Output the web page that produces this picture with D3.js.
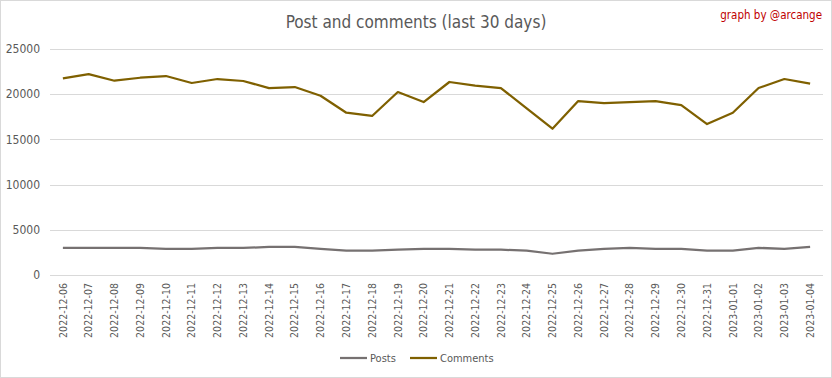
<!DOCTYPE html>
<html>
<head>
<meta charset="utf-8">
<script src="https://cdn.jsdelivr.net/npm/d3@7"></script>
<style>
  body { margin: 0; background: #fff; }
  svg { display: block; font-family: "Liberation Sans Narrow", "DejaVu Sans Condensed", "Liberation Sans", sans-serif; }
</style>
</head>
<body>
<div id="cont"></div>
<script>
// Data
var days = ["2022-12-06","2022-12-07","2022-12-08","2022-12-09","2022-12-10","2022-12-11",
  "2022-12-12","2022-12-13","2022-12-14","2022-12-15","2022-12-16","2022-12-17","2022-12-18",
  "2022-12-19","2022-12-20","2022-12-21","2022-12-22","2022-12-23","2022-12-24","2022-12-25",
  "2022-12-26","2022-12-27","2022-12-28","2022-12-29","2022-12-30","2022-12-31","2023-01-01",
  "2023-01-02","2023-01-03","2023-01-04"];
var posts = [3000,3000,3000,3000,2900,2900,3000,3000,3100,3100,2900,2700,2700,2800,2900,
  2900,2800,2800,2700,2350,2700,2900,3000,2900,2900,2700,2700,3000,2900,3100];
var comments = [21760,22230,21490,21820,22010,21240,21680,21460,20680,20790,19830,17950,17590,
  20240,19130,21350,20940,20680,18430,16180,19240,19020,19130,19240,18800,16700,17950,20680,
  21680,21160];
var yTicks = [0,5000,10000,15000,20000,25000];

var W = 832, H = 378;
var plotLeft = 50, plotRight = 823, plotTop = 49, plotBottom = 275;

var svg = d3.select("#cont").append("svg")
    .attr("width", W)
    .attr("height", H);

svg.append("rect")
    .attr("x", 0.5).attr("y", 0.5)
    .attr("width", W - 1).attr("height", H - 1)
    .attr("fill", "#fff")
    .attr("stroke", "#d9d9d9");

var x = d3.scaleBand().domain(days).range([plotLeft, plotRight]);
var y = d3.scaleLinear().domain([0, 25000]).range([plotBottom, plotTop]);

// gridlines
svg.append("g").selectAll("line")
    .data(yTicks)
    .join("line")
    .attr("x1", plotLeft).attr("x2", plotRight)
    .attr("y1", function(d) { return Math.round(y(d)) + 0.5; })
    .attr("y2", function(d) { return Math.round(y(d)) + 0.5; })
    .attr("stroke", "#d9d9d9");

// y labels
svg.append("g").selectAll("text")
    .data(yTicks)
    .join("text")
    .attr("x", 40)
    .attr("y", function(d) { return y(d); })
    .attr("dy", "0.35em")
    .attr("text-anchor", "end")
    .attr("font-size", 12)
    .attr("fill", "#595959")
    .text(function(d) { return d; });

// x labels
svg.append("g").selectAll("text")
    .data(days)
    .join("text")
    .attr("transform", function(d) {
        return "translate(" + (x(d) + x.bandwidth() / 2) + "," + 283 + ") rotate(-90)";
    })
    .attr("dy", "0.35em")
    .attr("text-anchor", "end")
    .attr("font-size", 10.5)
    .attr("fill", "#595959")
    .text(function(d) { return d; });

var line = function(vals) {
    return d3.line()
        .x(function(d, i) { return x(days[i]) + x.bandwidth() / 2; })
        .y(function(d) { return y(d); })(vals);
};

svg.append("path")
    .attr("d", line(posts))
    .attr("fill", "none")
    .attr("stroke", "#767171")
    .attr("stroke-width", 2.25)
    .attr("stroke-linejoin", "round");

svg.append("path")
    .attr("d", line(comments))
    .attr("fill", "none")
    .attr("stroke", "#7f6000")
    .attr("stroke-width", 2.25)
    .attr("stroke-linejoin", "round");

// title
svg.append("text")
    .attr("x", 416).attr("y", 28)
    .attr("text-anchor", "middle")
    .attr("font-size", 17)
    .attr("fill", "#595959")
    .text("Post and comments (last 30 days)");

svg.append("text")
    .attr("x", 822).attr("y", 19)
    .attr("text-anchor", "end")
    .attr("font-size", 11.5)
    .attr("fill", "#c00000")
    .text("graph by @arcange");

// legend
var legend = [{name: "Posts", color: "#767171", x: 340}, {name: "Comments", color: "#7f6000", x: 410}];
var lg = svg.append("g").selectAll("g")
    .data(legend)
    .join("g")
    .attr("transform", function(d) { return "translate(" + d.x + ",358)"; });
lg.append("line")
    .attr("x1", 0).attr("x2", 27)
    .attr("stroke", function(d) { return d.color; })
    .attr("stroke-width", 2.25);
lg.append("text")
    .attr("x", 30)
    .attr("dy", "0.35em")
    .attr("font-size", 11)
    .attr("fill", "#595959")
    .text(function(d) { return d.name; });
</script>
</body>
</html>
